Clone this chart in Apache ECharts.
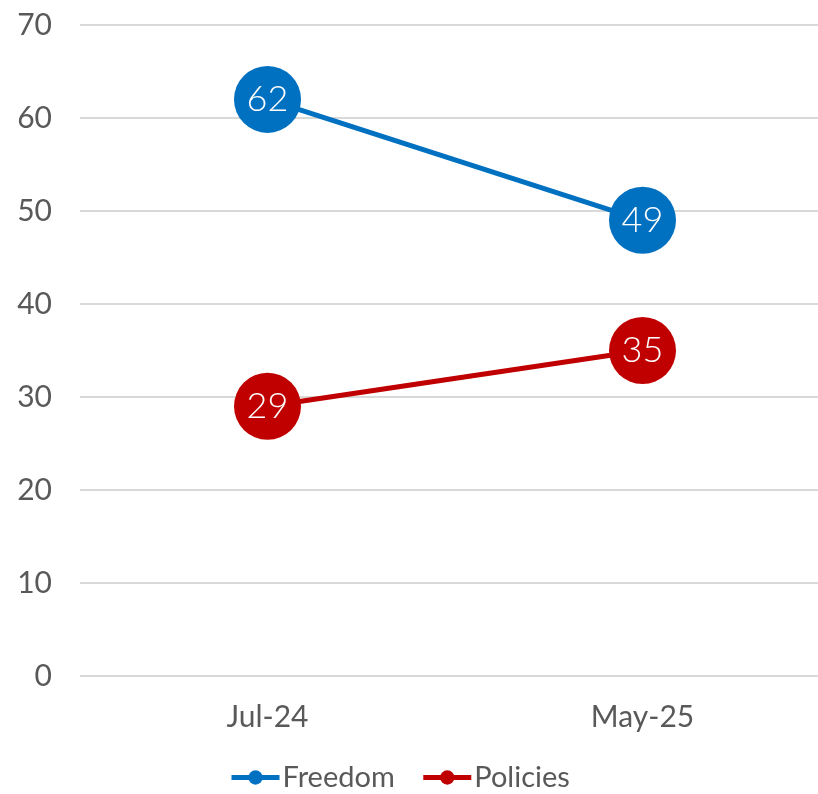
<!DOCTYPE html>
<html>
<head>
  <meta charset="UTF-8" />
  <script src="https://cdn.jsdelivr.net/npm/echarts@6/dist/echarts.min.js"></script>
  <style>
    html, body { margin: 0; padding: 0; background: #fff; }
    #main { width: 818px; height: 794px; }
  </style>
</head>
<body>
  <div id="main"></div>
  <script>
    const categories = ['Jul-24', 'May-25'];
    const freedom = [62, 49];
    const policies = [29, 35];

    const font = 'Lato';
    const chart = echarts.init(document.getElementById('main'));

    function lineSeries(name, data, color) {
      return {
        name: name,
        type: 'line',
        data: data,
        symbol: 'circle',
        symbolSize: 67,
        color: color,
        lineStyle: { width: 5, color: color },
        itemStyle: { color: color },
        label: {
          show: true,
          position: 'inside',
          color: '#fff',
          fontFamily: font,
          fontWeight: 300,
          fontSize: 36
        },
        emphasis: { disabled: true }
      };
    }

    chart.setOption({
      animation: false,
      backgroundColor: '#fff',
      grid: { left: 80, width: 750, top: 25, bottom: 118, outerBoundsMode: 'none', containLabel: false },
      legend: {
        left: 224,
        top: 758,
        itemWidth: 48,
        itemHeight: 18,
        itemGap: 26,
        lineStyle: { width: 5 },
        textStyle: { color: '#595959', fontFamily: font, fontSize: 29, padding: [0, 0, 0, -2] },
        data: ['Freedom', 'Policies']
      },
      xAxis: {
        type: 'category',
        data: categories,
        axisLine: { show: false },
        axisTick: { show: false },
        axisLabel: { color: '#595959', fontFamily: font, fontSize: 30, margin: 26 }
      },
      yAxis: {
        type: 'value',
        min: 0,
        max: 70,
        interval: 10,
        axisLine: { show: false },
        axisTick: { show: false },
        axisLabel: { color: '#595959', fontFamily: font, fontSize: 30, margin: 28 },
        splitLine: { lineStyle: { color: '#d9d9d9', width: 2 } }
      },
      series: [
        lineSeries('Freedom', freedom, '#0070C0'),
        lineSeries('Policies', policies, '#C00000')
      ]
    });
  </script>
</body>
</html>
